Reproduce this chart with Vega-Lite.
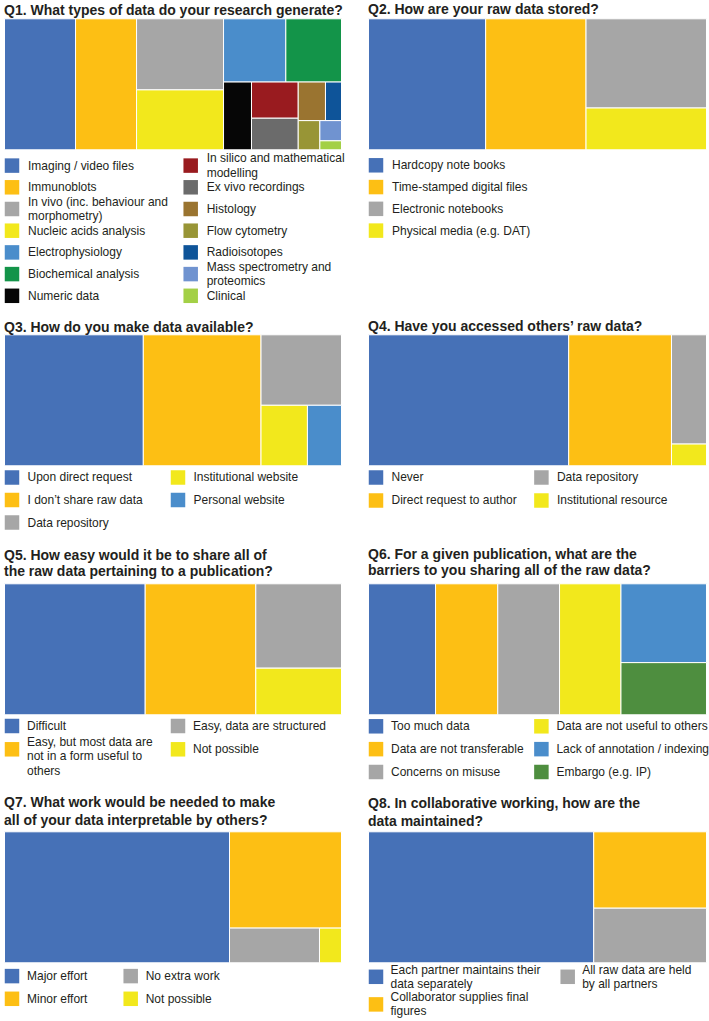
{
"$schema": "https://vega.github.io/schema/vega-lite/v6.json",
"background": "#ffffff",
"padding": {"left": 3.5, "top": 1.8, "right": 0, "bottom": 0},
"config": {
  "view": {"stroke": null},
  "font": "Liberation Sans",
  "title": {"anchor": "start", "fontSize": 14, "fontWeight": "bold", "font": "Liberation Sans", "color": "#231f20", "lineHeight": 16},
  "text": {"font": "Liberation Sans", "fontSize": 12, "color": "#231f20"}
},
"data": {"values": [
  {"q":"Q1","cat":"Imaging / video files","value":21.07,"path":"1"},
  {"q":"Q1","cat":"Immunoblots","value":18.1,"path":"2"},
  {"q":"Q1","cat":"In vivo (inc. behaviour and\nmorphometry)","value":14.0,"path":"3|1"},
  {"q":"Q1","cat":"Nucleic acids analysis","value":11.8,"path":"3|2"},
  {"q":"Q1","cat":"Electrophysiology","value":8.92,"path":"4|1|1"},
  {"q":"Q1","cat":"Biochemical analysis","value":7.97,"path":"4|1|2"},
  {"q":"Q1","cat":"Numeric data","value":4.29,"path":"4|2|1"},
  {"q":"Q1","cat":"In silico and mathematical\nmodelling","value":3.83,"path":"4|2|2|1"},
  {"q":"Q1","cat":"Ex vivo recordings","value":3.34,"path":"4|2|2|2"},
  {"q":"Q1","cat":"Histology","value":2.38,"path":"4|2|3|1|1"},
  {"q":"Q1","cat":"Radioisotopes","value":1.40,"path":"4|2|3|1|2"},
  {"q":"Q1","cat":"Flow cytometry","value":1.43,"path":"4|2|3|2|1"},
  {"q":"Q1","cat":"Mass spectrometry and\nproteomics","value":0.99,"path":"4|2|3|2|2|1"},
  {"q":"Q1","cat":"Clinical","value":0.44,"path":"4|2|3|2|2|2"},
  {"q":"Q2","cat":"Hardcopy note books","value":34.66,"path":"1"},
  {"q":"Q2","cat":"Time-stamped digital files","value":29.7,"path":"2"},
  {"q":"Q2","cat":"Electronic notebooks","value":24.27,"path":"3|1"},
  {"q":"Q2","cat":"Physical media (e.g. DAT)","value":11.37,"path":"3|2"},
  {"q":"Q3","cat":"Upon direct request","value":41.19,"path":"1"},
  {"q":"Q3","cat":"I don’t share raw data","value":34.93,"path":"2"},
  {"q":"Q3","cat":"Data repository","value":12.85,"path":"3|1"},
  {"q":"Q3","cat":"Institutional website","value":6.36,"path":"3|2|1"},
  {"q":"Q3","cat":"Personal website","value":4.67,"path":"3|2|2"},
  {"q":"Q4","cat":"Never","value":59.22,"path":"1"},
  {"q":"Q4","cat":"Direct request to author","value":30.41,"path":"2"},
  {"q":"Q4","cat":"Data repository","value":8.64,"path":"3|1"},
  {"q":"Q4","cat":"Institutional resource","value":1.72,"path":"3|2"},
  {"q":"Q5","cat":"Difficult","value":41.75,"path":"1"},
  {"q":"Q5","cat":"Easy, but most data are\nnot in a form useful to\nothers","value":32.82,"path":"2"},
  {"q":"Q5","cat":"Easy, data are structured","value":16.38,"path":"3|1"},
  {"q":"Q5","cat":"Not possible","value":9.05,"path":"3|2"},
  {"q":"Q6","cat":"Too much data","value":19.86,"path":"1"},
  {"q":"Q6","cat":"Data are not transferable","value":18.44,"path":"2"},
  {"q":"Q6","cat":"Concerns on misuse","value":18.3,"path":"3"},
  {"q":"Q6","cat":"Data are not useful to others","value":18.2,"path":"4"},
  {"q":"Q6","cat":"Lack of annotation / indexing","value":15.25,"path":"5|1"},
  {"q":"Q6","cat":"Embargo (e.g. IP)","value":10.09,"path":"5|2"},
  {"q":"Q7","cat":"Major effort","value":66.77,"path":"1"},
  {"q":"Q7","cat":"Minor effort","value":24.43,"path":"2|1"},
  {"q":"Q7","cat":"No extra work","value":7.07,"path":"2|2|1"},
  {"q":"Q7","cat":"Not possible","value":1.73,"path":"2|2|2"},
  {"q":"Q8","cat":"Each partner maintains their\ndata separately","value":66.63,"path":"1"},
  {"q":"Q8","cat":"Collaborator supplies final\nfigures","value":19.46,"path":"2|1"},
  {"q":"Q8","cat":"All raw data are held\nby all partners","value":13.91,"path":"2|2"}
]},
"transform": [
  {"calculate": "substring(datum.path, 0, 1)", "as": "g1"},
  {"calculate": "substring(datum.path, 0, 3)", "as": "g2"},
  {"calculate": "substring(datum.path, 0, 5)", "as": "g3"},
  {"calculate": "substring(datum.path, 0, 7)", "as": "g4"},
  {"calculate": "substring(datum.path, 0, 9)", "as": "g5"},
  {"calculate": "indexof(datum.cat, '\\n') >= 0 ? 7.25 : 0", "as": "lift"},
  {"stack": "value", "groupby": ["q"], "sort": [{"field": "path", "order": "ascending"}], "offset": "normalize", "as": ["s1a", "s1b"]},
  {"joinaggregate": [{"op": "min", "field": "s1a", "as": "X1a"}, {"op": "max", "field": "s1b", "as": "X1b"}], "groupby": ["q", "g1"]},
  {"stack": "value", "groupby": ["q", "g1"], "sort": [{"field": "path", "order": "ascending"}], "offset": "normalize", "as": ["s2a", "s2b"]},
  {"joinaggregate": [{"op": "min", "field": "s2a", "as": "Y2a"}, {"op": "max", "field": "s2b", "as": "Y2b"}], "groupby": ["q", "g2"]},
  {"stack": "value", "groupby": ["q", "g2"], "sort": [{"field": "path", "order": "ascending"}], "offset": "normalize", "as": ["s3a", "s3b"]},
  {"joinaggregate": [{"op": "min", "field": "s3a", "as": "X3a"}, {"op": "max", "field": "s3b", "as": "X3b"}], "groupby": ["q", "g3"]},
  {"stack": "value", "groupby": ["q", "g3"], "sort": [{"field": "path", "order": "ascending"}], "offset": "normalize", "as": ["s4a", "s4b"]},
  {"joinaggregate": [{"op": "min", "field": "s4a", "as": "Y4a"}, {"op": "max", "field": "s4b", "as": "Y4b"}], "groupby": ["q", "g4"]},
  {"stack": "value", "groupby": ["q", "g4"], "sort": [{"field": "path", "order": "ascending"}], "offset": "normalize", "as": ["s5a", "s5b"]},
  {"joinaggregate": [{"op": "min", "field": "s5a", "as": "X5a"}, {"op": "max", "field": "s5b", "as": "X5b"}], "groupby": ["q", "g5"]},
  {"stack": "value", "groupby": ["q", "g5"], "sort": [{"field": "path", "order": "ascending"}], "offset": "normalize", "as": ["s6a", "s6b"]},
  {"calculate": "datum.X1a + (datum.X1b - datum.X1a) * (datum.X3a + (datum.X3b - datum.X3a) * datum.X5a)", "as": "x0"},
  {"calculate": "datum.X1a + (datum.X1b - datum.X1a) * (datum.X3a + (datum.X3b - datum.X3a) * datum.X5b)", "as": "x1"},
  {"calculate": "datum.Y2a + (datum.Y2b - datum.Y2a) * (datum.Y4a + (datum.Y4b - datum.Y4a) * datum.s6a)", "as": "y0"},
  {"calculate": "datum.Y2a + (datum.Y2b - datum.Y2a) * (datum.Y4a + (datum.Y4b - datum.Y4a) * datum.s6b)", "as": "y1"}
],
"columns": 2,
"spacing": {"row": 0, "column": 27},
"bounds": "flush",
"align": "each",
"resolve": {"scale": {"color": "independent"}},
"concat": [
  {"width": 337, "height": 131,
   "title": {"text": "Q1. What types of data do your research generate?", "offset": 0.5},
   "transform": [{"filter": "datum.q === 'Q1'"}],
   "mark": {"type": "rect", "stroke": "#ffffff", "strokeWidth": 1},
   "encoding": {
     "x": {"field": "x0", "type": "quantitative", "scale": {"domain": [0, 1], "nice": false, "zero": false}, "axis": null},
     "x2": {"field": "x1"},
     "y": {"field": "y0", "type": "quantitative", "scale": {"domain": [0, 1], "nice": false, "zero": false, "reverse": true}, "axis": null},
     "y2": {"field": "y1"},
     "color": {"field": "cat", "type": "nominal", "legend": null, "scale": {
       "domain": ["Imaging / video files","Immunoblots","In vivo (inc. behaviour and\nmorphometry)","Nucleic acids analysis","Electrophysiology","Biochemical analysis","Numeric data","In silico and mathematical\nmodelling","Ex vivo recordings","Histology","Flow cytometry","Radioisotopes","Mass spectrometry and\nproteomics","Clinical"],
       "range": ["#4671b7","#fdbf14","#a6a6a6","#f2e81c","#4a8dcb","#139449","#060606","#991b1f","#6b6b6b","#9a7430","#989536","#0e5499","#7093d0","#a3d046"]}}
   }},
  {"width": 338, "height": 131,
   "title": {"text": "Q2. How are your raw data stored?", "offset": 1.7},
   "transform": [{"filter": "datum.q === 'Q2'"}],
   "mark": {"type": "rect", "stroke": "#ffffff", "strokeWidth": 1},
   "encoding": {
     "x": {"field": "x0", "type": "quantitative", "scale": {"domain": [0, 1], "nice": false, "zero": false}, "axis": null},
     "x2": {"field": "x1"},
     "y": {"field": "y0", "type": "quantitative", "scale": {"domain": [0, 1], "nice": false, "zero": false, "reverse": true}, "axis": null},
     "y2": {"field": "y1"},
     "color": {"field": "cat", "type": "nominal", "legend": null, "scale": {
       "domain": ["Hardcopy note books","Time-stamped digital files","Electronic notebooks","Physical media (e.g. DAT)"],
       "range": ["#4671b7","#fdbf14","#a6a6a6","#f2e81c"]}}
   }},
  {"width": 178.7, "height": 184.5,
   "transform": [
     {"filter": "datum.q === 'Q1'"},
     {"window": [{"op": "row_number", "as": "rank"}], "sort": [{"field": "value", "order": "descending"}]},
     {"calculate": "floor((datum.rank - 1) / 7)", "as": "lcol"},
     {"calculate": "(datum.rank - 1) % 7", "as": "lrow"},
     {"calculate": "datum.lrow - datum.lift / 21.7", "as": "trow"}
   ],
   "encoding": {
     "x": {"field": "lcol", "type": "quantitative", "scale": {"domain": [0, 1], "nice": false, "zero": false}, "axis": null}
   },
   "layer": [
     {"mark": {"type": "point", "shape": "square", "filled": true, "opacity": 1, "size": 210, "xOffset": 7.5, "strokeWidth": 0},
      "encoding": {
       "y": {"field": "lrow", "type": "quantitative", "scale": {"domain": [-0.7281, 7.7742], "nice": false, "zero": false, "reverse": true}, "axis": null},
       "color": {"field": "cat", "type": "nominal", "legend": null, "scale": {
       "domain": ["Imaging / video files","Immunoblots","In vivo (inc. behaviour and\nmorphometry)","Nucleic acids analysis","Electrophysiology","Biochemical analysis","Numeric data","In silico and mathematical\nmodelling","Ex vivo recordings","Histology","Flow cytometry","Radioisotopes","Mass spectrometry and\nproteomics","Clinical"],
       "range": ["#4671b7","#fdbf14","#a6a6a6","#f2e81c","#4a8dcb","#139449","#060606","#991b1f","#6b6b6b","#9a7430","#989536","#0e5499","#7093d0","#a3d046"]}}}},
     {"mark": {"type": "text", "align": "left", "baseline": "middle", "dx": 23.5, "fontSize": 12, "lineBreak": "\n", "lineHeight": 14.5, "color": "#231f20"},
      "encoding": {
       "y": {"field": "trow", "type": "quantitative", "scale": {"domain": [-0.7281, 7.7742], "nice": false, "zero": false, "reverse": true}, "axis": null},
       "text": {"field": "cat"}}}
   ]},
  {"width": 200, "height": 184.5,
   "transform": [
     {"filter": "datum.q === 'Q2'"},
     {"window": [{"op": "row_number", "as": "rank"}], "sort": [{"field": "value", "order": "descending"}]},
     {"calculate": "floor((datum.rank - 1) / 4)", "as": "lcol"},
     {"calculate": "(datum.rank - 1) % 4", "as": "lrow"},
     {"calculate": "datum.lrow - datum.lift / 21.77", "as": "trow"}
   ],
   "encoding": {
     "x": {"field": "lcol", "type": "quantitative", "scale": {"domain": [0, 1], "nice": false, "zero": false}, "axis": null}
   },
   "layer": [
     {"mark": {"type": "point", "shape": "square", "filled": true, "opacity": 1, "size": 210, "xOffset": 7.5, "strokeWidth": 0},
      "encoding": {
       "y": {"field": "lrow", "type": "quantitative", "scale": {"domain": [-0.712, 7.763], "nice": false, "zero": false, "reverse": true}, "axis": null},
       "color": {"field": "cat", "type": "nominal", "legend": null, "scale": {
       "domain": ["Hardcopy note books","Time-stamped digital files","Electronic notebooks","Physical media (e.g. DAT)"],
       "range": ["#4671b7","#fdbf14","#a6a6a6","#f2e81c"]}}}},
     {"mark": {"type": "text", "align": "left", "baseline": "middle", "dx": 23.5, "fontSize": 12, "lineBreak": "\n", "lineHeight": 14.5, "color": "#231f20"},
      "encoding": {
       "y": {"field": "trow", "type": "quantitative", "scale": {"domain": [-0.712, 7.763], "nice": false, "zero": false, "reverse": true}, "axis": null},
       "text": {"field": "cat"}}}
   ]},
  {"width": 337, "height": 131,
   "title": {"text": "Q3. How do you make data available?", "offset": -0.6},
   "transform": [{"filter": "datum.q === 'Q3'"}],
   "mark": {"type": "rect", "stroke": "#ffffff", "strokeWidth": 1},
   "encoding": {
     "x": {"field": "x0", "type": "quantitative", "scale": {"domain": [0, 1], "nice": false, "zero": false}, "axis": null},
     "x2": {"field": "x1"},
     "y": {"field": "y0", "type": "quantitative", "scale": {"domain": [0, 1], "nice": false, "zero": false, "reverse": true}, "axis": null},
     "y2": {"field": "y1"},
     "color": {"field": "cat", "type": "nominal", "legend": null, "scale": {
       "domain": ["Upon direct request","I don’t share raw data","Data repository","Institutional website","Personal website"],
       "range": ["#4671b7","#fdbf14","#a6a6a6","#f2e81c","#4a8dcb"]}}
   }},
  {"width": 338, "height": 131,
   "title": {"text": "Q4. Have you accessed others’ raw data?", "offset": 0},
   "transform": [{"filter": "datum.q === 'Q4'"}],
   "mark": {"type": "rect", "stroke": "#ffffff", "strokeWidth": 1},
   "encoding": {
     "x": {"field": "x0", "type": "quantitative", "scale": {"domain": [0, 1], "nice": false, "zero": false}, "axis": null},
     "x2": {"field": "x1"},
     "y": {"field": "y0", "type": "quantitative", "scale": {"domain": [0, 1], "nice": false, "zero": false, "reverse": true}, "axis": null},
     "y2": {"field": "y1"},
     "color": {"field": "cat", "type": "nominal", "legend": null, "scale": {
       "domain": ["Never","Direct request to author","Data repository","Institutional resource"],
       "range": ["#4671b7","#fdbf14","#a6a6a6","#f2e81c"]}}
   }},
  {"width": 166, "height": 117.5,
   "transform": [
     {"filter": "datum.q === 'Q3'"},
     {"window": [{"op": "row_number", "as": "rank"}], "sort": [{"field": "value", "order": "descending"}]},
     {"calculate": "floor((datum.rank - 1) / 3)", "as": "lcol"},
     {"calculate": "(datum.rank - 1) % 3", "as": "lrow"},
     {"calculate": "datum.lrow - datum.lift / 22.5", "as": "trow"}
   ],
   "encoding": {
     "x": {"field": "lcol", "type": "quantitative", "scale": {"domain": [0, 1], "nice": false, "zero": false}, "axis": null}
   },
   "layer": [
     {"mark": {"type": "point", "shape": "square", "filled": true, "opacity": 1, "size": 210, "xOffset": 7.5, "strokeWidth": 0},
      "encoding": {
       "y": {"field": "lrow", "type": "quantitative", "scale": {"domain": [-0.52, 4.702], "nice": false, "zero": false, "reverse": true}, "axis": null},
       "color": {"field": "cat", "type": "nominal", "legend": null, "scale": {
       "domain": ["Upon direct request","I don’t share raw data","Data repository","Institutional website","Personal website"],
       "range": ["#4671b7","#fdbf14","#a6a6a6","#f2e81c","#4a8dcb"]}}}},
     {"mark": {"type": "text", "align": "left", "baseline": "middle", "dx": 23, "fontSize": 12, "lineBreak": "\n", "lineHeight": 14.5, "color": "#231f20"},
      "encoding": {
       "y": {"field": "trow", "type": "quantitative", "scale": {"domain": [-0.52, 4.702], "nice": false, "zero": false, "reverse": true}, "axis": null},
       "text": {"field": "cat"}}}
   ]},
  {"width": 165.4, "height": 117.5,
   "transform": [
     {"filter": "datum.q === 'Q4'"},
     {"window": [{"op": "row_number", "as": "rank"}], "sort": [{"field": "value", "order": "descending"}]},
     {"calculate": "floor((datum.rank - 1) / 2)", "as": "lcol"},
     {"calculate": "(datum.rank - 1) % 2", "as": "lrow"},
     {"calculate": "datum.lrow - datum.lift / 23", "as": "trow"}
   ],
   "encoding": {
     "x": {"field": "lcol", "type": "quantitative", "scale": {"domain": [0, 1], "nice": false, "zero": false}, "axis": null}
   },
   "layer": [
     {"mark": {"type": "point", "shape": "square", "filled": true, "opacity": 1, "size": 210, "xOffset": 7.5, "strokeWidth": 0},
      "encoding": {
       "y": {"field": "lrow", "type": "quantitative", "scale": {"domain": [-0.5087, 4.6], "nice": false, "zero": false, "reverse": true}, "axis": null},
       "color": {"field": "cat", "type": "nominal", "legend": null, "scale": {
       "domain": ["Never","Direct request to author","Data repository","Institutional resource"],
       "range": ["#4671b7","#fdbf14","#a6a6a6","#f2e81c"]}}}},
     {"mark": {"type": "text", "align": "left", "baseline": "middle", "dx": 23, "fontSize": 12, "lineBreak": "\n", "lineHeight": 14.5, "color": "#231f20"},
      "encoding": {
       "y": {"field": "trow", "type": "quantitative", "scale": {"domain": [-0.5087, 4.6], "nice": false, "zero": false, "reverse": true}, "axis": null},
       "text": {"field": "cat"}}}
   ]},
  {"width": 337, "height": 131,
   "title": {"text": ["Q5. How easy would it be to share all of", "the raw data pertaining to a publication?"], "offset": 4.5, "lineHeight": 15.5},
   "transform": [{"filter": "datum.q === 'Q5'"}],
   "mark": {"type": "rect", "stroke": "#ffffff", "strokeWidth": 1},
   "encoding": {
     "x": {"field": "x0", "type": "quantitative", "scale": {"domain": [0, 1], "nice": false, "zero": false}, "axis": null},
     "x2": {"field": "x1"},
     "y": {"field": "y0", "type": "quantitative", "scale": {"domain": [0, 1], "nice": false, "zero": false, "reverse": true}, "axis": null},
     "y2": {"field": "y1"},
     "color": {"field": "cat", "type": "nominal", "legend": null, "scale": {
       "domain": ["Difficult","Easy, but most data are\nnot in a form useful to\nothers","Easy, data are structured","Not possible"],
       "range": ["#4671b7","#fdbf14","#a6a6a6","#f2e81c"]}}
   }},
  {"width": 338, "height": 131,
   "title": {"text": ["Q6. For a given publication, what are the", "barriers to you sharing all of the raw data?"], "offset": 5.3, "lineHeight": 15.5},
   "transform": [{"filter": "datum.q === 'Q6'"}],
   "mark": {"type": "rect", "stroke": "#ffffff", "strokeWidth": 1},
   "encoding": {
     "x": {"field": "x0", "type": "quantitative", "scale": {"domain": [0, 1], "nice": false, "zero": false}, "axis": null},
     "x2": {"field": "x1"},
     "y": {"field": "y0", "type": "quantitative", "scale": {"domain": [0, 1], "nice": false, "zero": false, "reverse": true}, "axis": null},
     "y2": {"field": "y1"},
     "color": {"field": "cat", "type": "nominal", "legend": null, "scale": {
       "domain": ["Too much data","Data are not transferable","Concerns on misuse","Data are not useful to others","Lack of annotation / indexing","Embargo (e.g. IP)"],
       "range": ["#4671b7","#fdbf14","#a6a6a6","#f2e81c","#4a8dcb","#4e8e3f"]}}
   }},
  {"width": 166, "height": 116.2,
   "transform": [
     {"filter": "datum.q === 'Q5'"},
     {"window": [{"op": "row_number", "as": "rank"}], "sort": [{"field": "value", "order": "descending"}]},
     {"calculate": "floor((datum.rank - 1) / 2)", "as": "lcol"},
     {"calculate": "(datum.rank - 1) % 2", "as": "lrow"},
     {"calculate": "datum.lrow - datum.lift / 23.3", "as": "trow"}
   ],
   "encoding": {
     "x": {"field": "lcol", "type": "quantitative", "scale": {"domain": [0, 1], "nice": false, "zero": false}, "axis": null}
   },
   "layer": [
     {"mark": {"type": "point", "shape": "square", "filled": true, "opacity": 1, "size": 210, "xOffset": 7.5, "strokeWidth": 0},
      "encoding": {
       "y": {"field": "lrow", "type": "quantitative", "scale": {"domain": [-0.4807, 4.5064], "nice": false, "zero": false, "reverse": true}, "axis": null},
       "color": {"field": "cat", "type": "nominal", "legend": null, "scale": {
       "domain": ["Difficult","Easy, but most data are\nnot in a form useful to\nothers","Easy, data are structured","Not possible"],
       "range": ["#4671b7","#fdbf14","#a6a6a6","#f2e81c"]}}}},
     {"mark": {"type": "text", "align": "left", "baseline": "middle", "dx": 22.5, "fontSize": 12, "lineBreak": "\n", "lineHeight": 14.3, "color": "#231f20"},
      "encoding": {
       "y": {"field": "trow", "type": "quantitative", "scale": {"domain": [-0.4807, 4.5064], "nice": false, "zero": false, "reverse": true}, "axis": null},
       "text": {"field": "cat"}}}
   ]},
  {"width": 165.4, "height": 116.2,
   "transform": [
     {"filter": "datum.q === 'Q6'"},
     {"window": [{"op": "row_number", "as": "rank"}], "sort": [{"field": "value", "order": "descending"}]},
     {"calculate": "floor((datum.rank - 1) / 3)", "as": "lcol"},
     {"calculate": "(datum.rank - 1) % 3", "as": "lrow"},
     {"calculate": "datum.lrow - datum.lift / 22.85", "as": "trow"}
   ],
   "encoding": {
     "x": {"field": "lcol", "type": "quantitative", "scale": {"domain": [0, 1], "nice": false, "zero": false}, "axis": null}
   },
   "layer": [
     {"mark": {"type": "point", "shape": "square", "filled": true, "opacity": 1, "size": 210, "xOffset": 7.5, "strokeWidth": 0},
      "encoding": {
       "y": {"field": "lrow", "type": "quantitative", "scale": {"domain": [-0.5033, 4.582], "nice": false, "zero": false, "reverse": true}, "axis": null},
       "color": {"field": "cat", "type": "nominal", "legend": null, "scale": {
       "domain": ["Too much data","Data are not transferable","Concerns on misuse","Data are not useful to others","Lack of annotation / indexing","Embargo (e.g. IP)"],
       "range": ["#4671b7","#fdbf14","#a6a6a6","#f2e81c","#4a8dcb","#4e8e3f"]}}}},
     {"mark": {"type": "text", "align": "left", "baseline": "middle", "dx": 22.5, "fontSize": 12, "lineBreak": "\n", "lineHeight": 14.5, "color": "#231f20"},
      "encoding": {
       "y": {"field": "trow", "type": "quantitative", "scale": {"domain": [-0.5033, 4.582], "nice": false, "zero": false, "reverse": true}, "axis": null},
       "text": {"field": "cat"}}}
   ]},
  {"width": 337, "height": 131,
   "title": {"text": ["Q7. What work would be needed to make", "all of your data interpretable by others?"], "offset": 3.5, "lineHeight": 17.5},
   "transform": [{"filter": "datum.q === 'Q7'"}],
   "mark": {"type": "rect", "stroke": "#ffffff", "strokeWidth": 1},
   "encoding": {
     "x": {"field": "x0", "type": "quantitative", "scale": {"domain": [0, 1], "nice": false, "zero": false}, "axis": null},
     "x2": {"field": "x1"},
     "y": {"field": "y0", "type": "quantitative", "scale": {"domain": [0, 1], "nice": false, "zero": false, "reverse": true}, "axis": null},
     "y2": {"field": "y1"},
     "color": {"field": "cat", "type": "nominal", "legend": null, "scale": {
       "domain": ["Major effort","Minor effort","No extra work","Not possible"],
       "range": ["#4671b7","#fdbf14","#a6a6a6","#f2e81c"]}}
   }},
  {"width": 338, "height": 131,
   "title": {"text": ["Q8. In collaborative working, how are the", "data maintained?"], "offset": 2.4, "lineHeight": 17.5},
   "transform": [{"filter": "datum.q === 'Q8'"}],
   "mark": {"type": "rect", "stroke": "#ffffff", "strokeWidth": 1},
   "encoding": {
     "x": {"field": "x0", "type": "quantitative", "scale": {"domain": [0, 1], "nice": false, "zero": false}, "axis": null},
     "x2": {"field": "x1"},
     "y": {"field": "y0", "type": "quantitative", "scale": {"domain": [0, 1], "nice": false, "zero": false, "reverse": true}, "axis": null},
     "y2": {"field": "y1"},
     "color": {"field": "cat", "type": "nominal", "legend": null, "scale": {
       "domain": ["Each partner maintains their\ndata separately","Collaborator supplies final\nfigures","All raw data are held\nby all partners"],
       "range": ["#4671b7","#fdbf14","#a6a6a6"]}}
   }},
  {"width": 118.7, "height": 56,
   "transform": [
     {"filter": "datum.q === 'Q7'"},
     {"window": [{"op": "row_number", "as": "rank"}], "sort": [{"field": "value", "order": "descending"}]},
     {"calculate": "floor((datum.rank - 1) / 2)", "as": "lcol"},
     {"calculate": "(datum.rank - 1) % 2", "as": "lrow"},
     {"calculate": "datum.lrow - datum.lift / 22.7", "as": "trow"}
   ],
   "encoding": {
     "x": {"field": "lcol", "type": "quantitative", "scale": {"domain": [0, 1], "nice": false, "zero": false}, "axis": null}
   },
   "layer": [
     {"mark": {"type": "point", "shape": "square", "filled": true, "opacity": 1, "size": 210, "xOffset": 7.5, "strokeWidth": 0},
      "encoding": {
       "y": {"field": "lrow", "type": "quantitative", "scale": {"domain": [-0.5859, 1.8811], "nice": false, "zero": false, "reverse": true}, "axis": null},
       "color": {"field": "cat", "type": "nominal", "legend": null, "scale": {
       "domain": ["Major effort","Minor effort","No extra work","Not possible"],
       "range": ["#4671b7","#fdbf14","#a6a6a6","#f2e81c"]}}}},
     {"mark": {"type": "text", "align": "left", "baseline": "middle", "dx": 22.5, "fontSize": 12, "lineBreak": "\n", "lineHeight": 14.5, "color": "#231f20"},
      "encoding": {
       "y": {"field": "trow", "type": "quantitative", "scale": {"domain": [-0.5859, 1.8811], "nice": false, "zero": false, "reverse": true}, "axis": null},
       "text": {"field": "cat"}}}
   ]},
  {"width": 191.7, "height": 56,
   "transform": [
     {"filter": "datum.q === 'Q8'"},
     {"window": [{"op": "row_number", "as": "rank"}], "sort": [{"field": "value", "order": "descending"}]},
     {"calculate": "floor((datum.rank - 1) / 2)", "as": "lcol"},
     {"calculate": "(datum.rank - 1) % 2", "as": "lrow"},
     {"calculate": "datum.lrow - datum.lift / 27.6", "as": "trow"}
   ],
   "encoding": {
     "x": {"field": "lcol", "type": "quantitative", "scale": {"domain": [0, 1], "nice": false, "zero": false}, "axis": null}
   },
   "layer": [
     {"mark": {"type": "point", "shape": "square", "filled": true, "opacity": 1, "size": 210, "xOffset": 7.5, "strokeWidth": 0},
      "encoding": {
       "y": {"field": "lrow", "type": "quantitative", "scale": {"domain": [-0.5072, 1.5218], "nice": false, "zero": false, "reverse": true}, "axis": null},
       "color": {"field": "cat", "type": "nominal", "legend": null, "scale": {
       "domain": ["Each partner maintains their\ndata separately","Collaborator supplies final\nfigures","All raw data are held\nby all partners"],
       "range": ["#4671b7","#fdbf14","#a6a6a6"]}}}},
     {"mark": {"type": "text", "align": "left", "baseline": "middle", "dx": 22, "fontSize": 12, "lineBreak": "\n", "lineHeight": 14, "color": "#231f20"},
      "encoding": {
       "y": {"field": "trow", "type": "quantitative", "scale": {"domain": [-0.5072, 1.5218], "nice": false, "zero": false, "reverse": true}, "axis": null},
       "text": {"field": "cat"}}}
   ]}
]
}
